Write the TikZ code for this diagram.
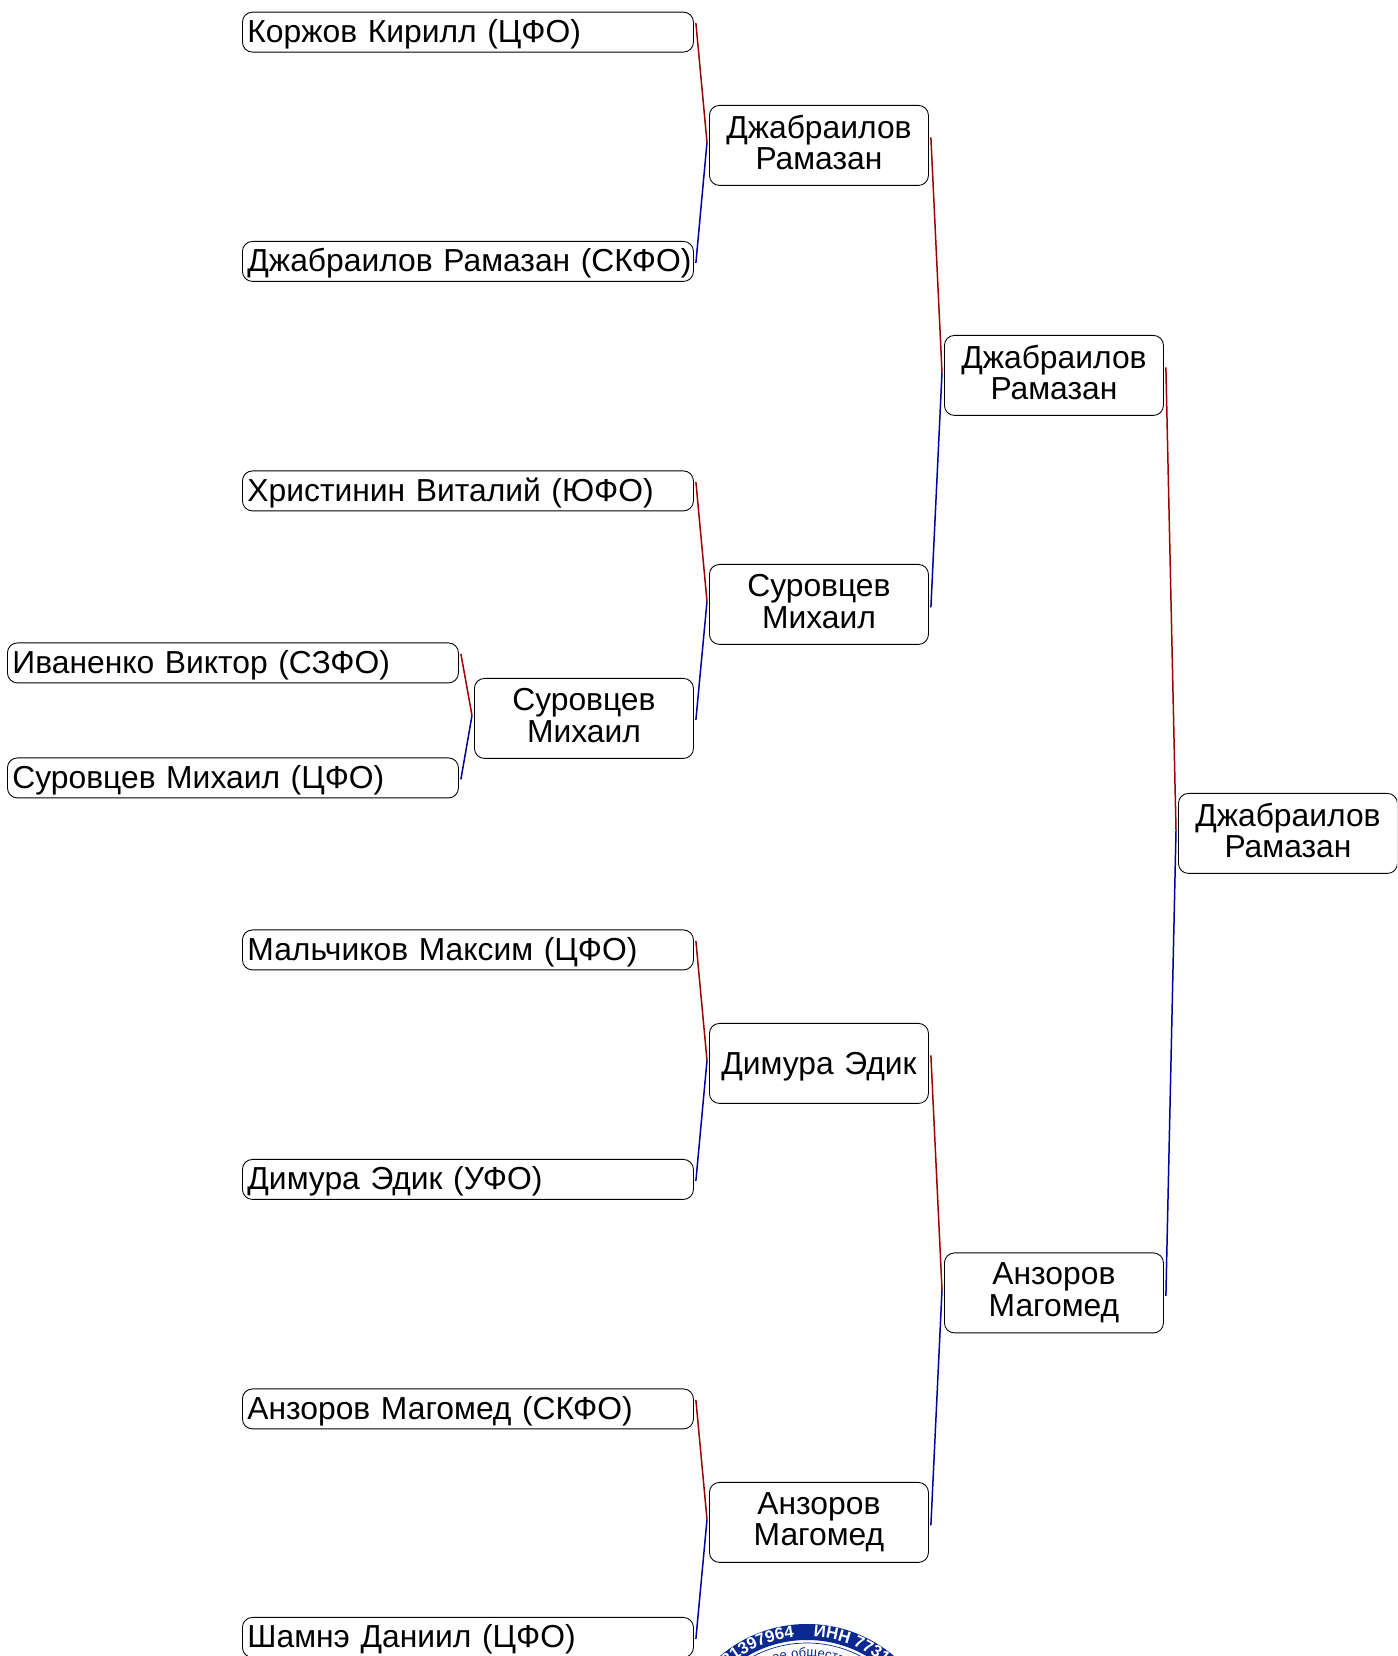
\documentclass[tikz,border=0pt]{standalone}
\usepackage{fontspec}
\setmainfont{Liberation Sans}
\usetikzlibrary{decorations.text}
\definecolor{stampblue}{RGB}{10,42,145}
\tikzset{
  leafbox/.style={draw=black,line width=0.5pt,rounded corners=0.2cm,anchor=north west,minimum width=9.02cm,minimum height=0.8cm,text width=8.98cm,inner xsep=0.02cm,inner ysep=0pt,align=left,font=\fontsize{18.1}{18}\selectfont,execute at begin node={\hspace*{0.08cm}},execute at end node={\vspace*{-0.08cm}}},
  winbox/.style={draw=black,line width=0.5pt,rounded corners=0.2cm,anchor=north west,minimum width=4.38cm,minimum height=1.6cm,text width=4.3cm,inner xsep=0.04cm,inner ysep=0pt,align=center,font=\fontsize{18.1}{18}\selectfont,execute at end node={\strut\vspace*{#1}}},
  winbox/.default=-0.06cm,
  redline/.style={draw=red!62!black,line width=0.85pt},
  blueline/.style={draw=blue!62!black,line width=0.85pt}
}
\begin{document}
\begin{tikzpicture}
\useasboundingbox (0,0) rectangle (27.94,33.12);
\begin{scope}
\clip (0,0) rectangle (27.94,33.12);
% stamp
\draw[stampblue,line width=0.32cm] (16.14,-2.04) circle (2.52);
\draw[stampblue,line width=0.4pt] (16.14,-2.04) circle (2.30);
\path[decorate,decoration={text along path,text align=right,text={|\bfseries\fontsize{9.5}{9.5}\selectfont\color{white}|7731397964}}] (16.14,-2.04) ++(155:2.43) arc (155:96:2.43);
\path[decorate,decoration={text along path,text align=left,text={|\bfseries\fontsize{9.5}{9.5}\selectfont\color{white}|ИНН 7731397964}}] (16.14,-2.04) ++(87:2.43) arc (87:20:2.43);
\path[decorate,decoration={text along path,text align=center,text={|\fontsize{7.5}{7.5}\selectfont\color{stampblue}|ое общество}}] (16.14,-2.04) ++(127:2.02) arc (127:47:2.02);

% players
\node[leafbox] (korzhov) at (4.84,32.886) {Коржов Кирилл (ЦФО)};
\node[leafbox] (dzhab) at (4.84,28.30) {Джабраилов Рамазан (СКФО)};
\node[leafbox] (hrist) at (4.84,23.71) {Христинин Виталий (ЮФО)};
\node[leafbox] (ivan) at (0.14,20.27) {Иваненко Виктор (СЗФО)};
\node[leafbox] (surov) at (0.14,17.97) {Суровцев Михаил (ЦФО)};
\node[leafbox] (malch) at (4.84,14.53) {Мальчиков Максим (ЦФО)};
\node[leafbox] (dimura) at (4.84,9.94) {Димура Эдик (УФО)};
\node[leafbox] (anz) at (4.84,5.35) {Анзоров Магомед (СКФО)};
\node[leafbox] (shamne) at (4.84,0.78) {Шамнэ Даниил (ЦФО)};

% winners
\node[winbox] (semi) at (9.48,19.56) {Суровцев\\Михаил};
\node[winbox] (qa) at (14.18,31.02) {Джабраилов\\Рамазан};
\node[winbox] (qb) at (14.18,21.84) {Суровцев\\Михаил};
\node[winbox=-0.24cm] (qc) at (14.18,12.66) {Димура Эдик};
\node[winbox] (qd) at (14.18,3.48) {Анзоров\\Магомед};
\node[winbox] (ha) at (18.88,26.42) {Джабраилов\\Рамазан};
\node[winbox] (hb) at (18.88,8.07) {Анзоров\\Магомед};
\node[winbox] (final) at (23.56,17.26) {Джабраилов\\Рамазан};

% connectors
\draw[redline] ([shift={(.04,.18)}]korzhov.east) -- ([shift={(-.04,.06)}]qa.west);
\draw[blueline] ([shift={(.04,-.03)}]dzhab.east) -- ([shift={(-.04,.06)}]qa.west);
\draw[redline] ([shift={(.04,.18)}]hrist.east) -- ([shift={(-.04,.06)}]qb.west);
\draw[blueline] ([shift={(.04,-.03)}]semi.east) -- ([shift={(-.04,.06)}]qb.west);
\draw[redline] ([shift={(.04,.18)}]ivan.east) -- ([shift={(-.04,.06)}]semi.west);
\draw[blueline] ([shift={(.04,-.03)}]surov.east) -- ([shift={(-.04,.06)}]semi.west);
\draw[redline] ([shift={(.04,.18)}]malch.east) -- ([shift={(-.04,.06)}]qc.west);
\draw[blueline] ([shift={(.04,-.03)}]dimura.east) -- ([shift={(-.04,.06)}]qc.west);
\draw[redline] ([shift={(.04,.18)}]anz.east) -- ([shift={(-.04,.06)}]qd.west);
\draw[blueline] ([shift={(.04,-.03)}]shamne.east) -- ([shift={(-.04,.06)}]qd.west);
\draw[redline] ([shift={(.04,.16)}]qa.east) -- ([shift={(-.04,.06)}]ha.west);
\draw[blueline] ([shift={(.04,-.06)}]qb.east) -- ([shift={(-.04,.06)}]ha.west);
\draw[redline] ([shift={(.04,.16)}]qc.east) -- ([shift={(-.04,.06)}]hb.west);
\draw[blueline] ([shift={(.04,-.06)}]qd.east) -- ([shift={(-.04,.06)}]hb.west);
\draw[redline] ([shift={(.04,.16)}]ha.east) -- ([shift={(-.04,.06)}]final.west);
\draw[blueline] ([shift={(.04,-.06)}]hb.east) -- ([shift={(-.04,.06)}]final.west);
\end{scope}
\end{tikzpicture}
\end{document}
